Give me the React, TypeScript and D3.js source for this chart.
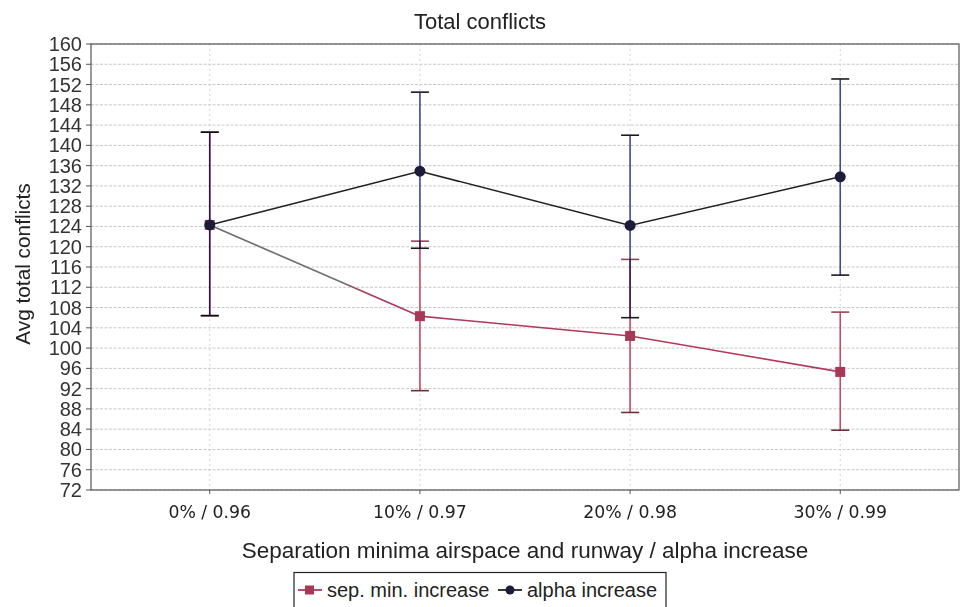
import React from "react";
import * as d3 from "d3";

const categories = ["0% / 0.96", "10% / 0.97", "20% / 0.98", "30% / 0.99"];
const sepMean = [124.3, 106.3, 102.4, 95.3];
const sepLow = [106.4, 91.6, 87.3, 83.8];
const sepHigh = [142.6, 121.1, 117.5, 107.1];
const alphaMean = [124.3, 134.9, 124.2, 133.8];
const alphaLow = [106.4, 119.7, 106.0, 114.4];
const alphaHigh = [142.6, 150.5, 142.0, 153.1];
const yTicks = d3.range(72, 161, 4);
const seriesNames = ["sep. min. increase", "alpha increase"];
const titleText = "Total conflicts";
const xTitle = "Separation minima airspace and runway / alpha increase";
const yTitle = "Avg total conflicts";

const W = 960, H = 607;
const L = 91, R = 959, T = 44, B = 490;
const RED = "#b0385a";
const RED_BAR = "#c44a6a";
const BLUE_BAR = "#45459a";
const NAVY = "#1c1c3a";
const SANS = "'Liberation Sans', Arial, sans-serif";

export default function App() {
  const x = d3.scalePoint<string>().domain(categories).range([L, R]).padding(0.565);
  const y = d3.scaleLinear().domain([72, 160]).range([B, T]);
  const line = d3.line<number>().x((_, i) => x(categories[i])!).y((d) => y(d));
  const cap = 9;
  const x0 = x(categories[0])!, x1 = x(categories[1])!;

  return (
    <div style={{ position: "absolute", left: 0, top: 0 }}>
      <svg width={W} height={H} style={{ display: "block", background: "#fff" }}>
        <defs>
          <linearGradient id="sepGrad" gradientUnits="userSpaceOnUse" x1={x0} y1={0} x2={x1} y2={0}>
            <stop offset="0" stopColor="#6a6a6a" />
            <stop offset="0.62" stopColor="#707070" />
            <stop offset="0.74" stopColor={RED} />
            <stop offset="1" stopColor={RED} />
          </linearGradient>
        </defs>
        {/* title */}
        <text x={480} y={29} textAnchor="middle" fontFamily={SANS} fontSize={22} fill="#222">{titleText}</text>
        {/* grid */}
        {yTicks.map((t) => (
          <line key={"g" + t} x1={L} x2={R} y1={y(t)} y2={y(t)} stroke="#c8c8c8" strokeWidth={1} strokeDasharray="3,1.5" />
        ))}
        {categories.map((c) => (
          <line key={"v" + c} x1={x(c)} x2={x(c)} y1={T} y2={B} stroke="#d4d4d4" strokeWidth={1} strokeDasharray="2,3" />
        ))}
        {/* plot border */}
        <rect x={L} y={T} width={R - L} height={B - T} fill="none" stroke="#555" strokeWidth={1.2} />
        {/* y axis ticks */}
        {yTicks.map((t) => (
          <g key={"t" + t}>
            <line x1={L - 5} x2={L} y1={y(t)} y2={y(t)} stroke="#555" />
            <text x={82} y={y(t) + 7} textAnchor="end" fontFamily={SANS} fontSize={20} fill="#333">{t}</text>
          </g>
        ))}
        {/* x axis ticks */}
        {categories.map((c) => (
          <g key={"xt" + c}>
            <line x1={x(c)} x2={x(c)} y1={B} y2={B + 4} stroke="#555" />
            <text x={x(c)} y={518} textAnchor="middle" fontFamily="'DejaVu Sans', sans-serif" fontSize={17.3} fill="#222">{c}</text>
          </g>
        ))}
        {/* axis titles */}
        <text x={(L + R) / 2} y={558} textAnchor="middle" fontFamily={SANS} fontSize={22.5} fill="#222">{xTitle}</text>
        <text transform={`translate(30,${264}) rotate(-90)`} textAnchor="middle" fontFamily={SANS} fontSize={20.8} fill="#222">{yTitle}</text>
        {/* error bars */}
        <g style={{ isolation: "isolate" }}>
          {categories.map((c, i) => (
            <g key={"eb" + c} style={{ mixBlendMode: "multiply" }}>
              <line x1={x(c)} x2={x(c)} y1={y(sepLow[i])} y2={y(sepHigh[i])} stroke={RED_BAR} strokeWidth={1.6} />
              <line x1={x(c)! - cap} x2={x(c)! + cap} y1={y(sepLow[i])} y2={y(sepLow[i])} stroke="#6a3040" strokeWidth={1.6} />
              <line x1={x(c)! - cap} x2={x(c)! + cap} y1={y(sepHigh[i])} y2={y(sepHigh[i])} stroke="#a04058" strokeWidth={1.6} />
            </g>
          ))}
          {categories.map((c, i) => (
            <g key={"ea" + c} style={{ mixBlendMode: "multiply" }}>
              <line x1={x(c)} x2={x(c)} y1={y(alphaLow[i])} y2={y(alphaHigh[i])} stroke={BLUE_BAR} strokeWidth={1.6} />
              <line x1={x(c)! - cap} x2={x(c)! + cap} y1={y(alphaLow[i])} y2={y(alphaLow[i])} stroke="#1a1a1a" strokeWidth={1.6} />
              <line x1={x(c)! - cap} x2={x(c)! + cap} y1={y(alphaHigh[i])} y2={y(alphaHigh[i])} stroke="#1a1a1a" strokeWidth={1.6} />
            </g>
          ))}
        </g>
        {/* sep line */}
        <path d={line(sepMean.slice(0, 2))!} fill="none" stroke="url(#sepGrad)" strokeWidth={1.6} />
        <path d={d3.line<number>().x((_, i) => x(categories[i + 1])!).y((d) => y(d))(sepMean.slice(1))!} fill="none" stroke={RED} strokeWidth={1.6} />
        {sepMean.map((v, i) => (
          <rect key={"s" + i} x={x(categories[i])! - 5} y={y(v) - 5} width={10} height={10} fill="#a83858" />
        ))}
        {/* alpha line */}
        <path d={line(alphaMean)!} fill="none" stroke="#222" strokeWidth={1.6} />
        {alphaMean.map((v, i) => (
          <circle key={"a" + i} cx={x(categories[i])} cy={y(v)} r={5.5} fill={NAVY} />
        ))}
        {/* legend */}
        <rect x={294} y={572.5} width={372} height={40} fill="#fff" stroke="#222" strokeWidth={1.2} />
        <line x1={298} x2={322} y1={590} y2={590} stroke={RED} strokeWidth={1.8} />
        <rect x={305} y={585.5} width={9} height={9} fill="#a83858" />
        <text x={327} y={597} fontFamily={SANS} fontSize={20} fill="#222">{seriesNames[0]}</text>
        <line x1={498} x2={522} y1={590} y2={590} stroke="#222" strokeWidth={1.8} />
        <circle cx={510} cy={590} r={4.5} fill={NAVY} />
        <text x={527} y={597} fontFamily={SANS} fontSize={20} fill="#222">{seriesNames[1]}</text>
      </svg>
    </div>
  );
}
